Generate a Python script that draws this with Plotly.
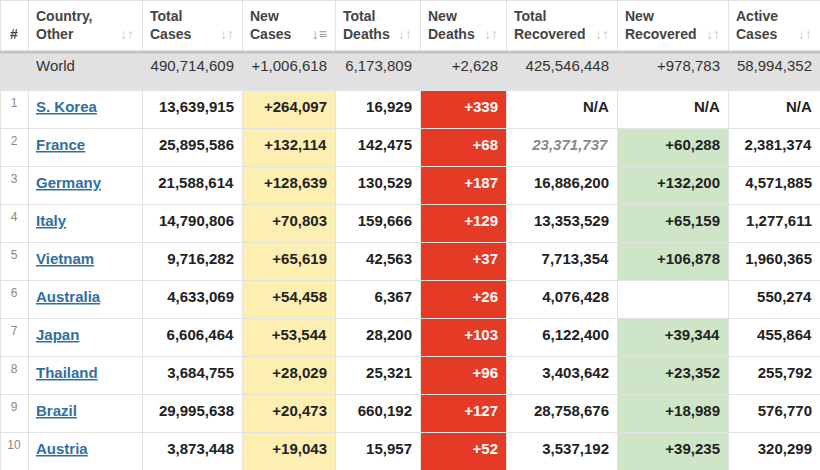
import plotly.graph_objects as go

HEADERS = ["#", "Country,<br>Other", "Total<br>Cases", "New<br>Cases", "Total<br>Deaths",
           "New<br>Deaths", "Total<br>Recovered", "New<br>Recovered", "Active<br>Cases"]

COUNTRIES = ["S. Korea", "France", "Germany", "Italy", "Vietnam",
             "Australia", "Japan", "Thailand", "Brazil", "Austria"]
TOTAL_CASES = [13639915, 25895586, 21588614, 14790806, 9716282,
               4633069, 6606464, 3684755, 29995638, 3873448]
NEW_CASES = [264097, 132114, 128639, 70803, 65619, 54458, 53544, 28029, 20473, 19043]
TOTAL_DEATHS = [16929, 142475, 130529, 159666, 42563, 6367, 28200, 25321, 660192, 15957]
NEW_DEATHS = [339, 68, 187, 129, 37, 26, 103, 96, 127, 52]
TOTAL_RECOVERED = ["N/A", 23371737, 16886200, 13353529, 7713354,
                   4076428, 6122400, 3403642, 28758676, 3537192]
NEW_RECOVERED = ["N/A", 60288, 132200, 65159, 106878, None, 39344, 23352, 18989, 39235]
ACTIVE_CASES = ["N/A", 2381374, 4571885, 1277611, 1960365,
                550274, 455864, 255792, 576770, 320299]
ESTIMATED_RECOVERED = ["France"]

WORLD = [490714609, 1006618, 6173809, 2628, 425546448, 978783, 58994352]

YELLOW = "#fdefb1"
RED = "#e53a26"
GREEN = "#cee5c8"
GREY = "#e1e1e1"
FONT = "Helvetica Neue, Liberation Sans, Arial, sans-serif"
NBSP = "\u00a0"


def fmt(v, plus=False):
    if v is None:
        return ""
    if isinstance(v, str):
        return v
    return ("+" if plus else "") + f"{v:,}"


def b(s):
    return f"<b>{s}</b>" if s else s


n = len(COUNTRIES)
cols = [
    [""] + [str(i + 1) for i in range(n)],
    ["World"] + [f"<b><u>{c.replace(' ', NBSP)}</u></b>" for c in COUNTRIES],
    [fmt(WORLD[0])] + [b(fmt(v)) for v in TOTAL_CASES],
    [fmt(WORLD[1], True)] + [b(fmt(v, True)) for v in NEW_CASES],
    [fmt(WORLD[2])] + [b(fmt(v)) for v in TOTAL_DEATHS],
    [fmt(WORLD[3], True)] + [b(fmt(v, True)) for v in NEW_DEATHS],
    [fmt(WORLD[4])] + [
        f"<b><i>{fmt(v)}</i></b>" if c in ESTIMATED_RECOVERED else b(fmt(v))
        for c, v in zip(COUNTRIES, TOTAL_RECOVERED)],
    [fmt(WORLD[5], True)] + [b(fmt(v, True)) for v in NEW_RECOVERED],
    [fmt(WORLD[6])] + [b(fmt(v)) for v in ACTIVE_CASES],
]

fills = []
colors = []
for j in range(9):
    fc = [GREY]
    tc = ["#333"]
    for i in range(n):
        if j == 3:
            fc.append(YELLOW)
        elif j == 5:
            fc.append(RED)
        elif j == 7 and isinstance(NEW_RECOVERED[i], int):
            fc.append(GREEN)
        else:
            fc.append("white")
        if j == 0:
            tc.append("#888")
        elif j == 1:
            tc.append("#2f6fa3")
        elif j == 5:
            tc.append("white")
        elif j == 6 and COUNTRIES[i] in ESTIMATED_RECOVERED:
            tc.append("#8a8a8a")
        else:
            tc.append("#222")
    fills.append(fc)
    colors.append(tc)

col_sizes = [12] + [15] * 8

widths = [28, 114, 100, 93, 85, 86, 111, 111, 92]

fig = go.Figure()
fig.add_trace(go.Table(
    columnwidth=widths,
    domain=dict(x=[0, 1], y=[0, 1]),
    header=dict(
        values=[f"<b>{h}</b>" if i else NBSP + "<br><b>#</b>" for i, h in enumerate(HEADERS)],
        align=["center"] + ["left"] * 8,
        height=52,
        fill_color="white",
        line=dict(color="#e2e2e2", width=1),
        font=dict(family=FONT, size=14, color="#444"),
    ),
    cells=dict(
        values=cols,
        align=["center", "left"] + ["right"] * 7,
        height=38,
        fill_color=fills,
        line=dict(color="#e2e2e2", width=1),
        font=dict(family=FONT, size=col_sizes, color=colors),
    ),
))

# sort icons in header
icons = [""] + [NBSP + "<br><b>↓↑</b>"] * 8
icons[3] = NBSP + "<br><b>↓≡</b>"
icon_colors = ["#ccc"] * 9
icon_colors[3] = "#999"
fig.add_trace(go.Table(
    columnwidth=widths,
    domain=dict(x=[0, 1], y=[0, 1]),
    header=dict(
        values=icons,
        align="right",
        height=52,
        fill_color="rgba(0,0,0,0)",
        line=dict(width=0, color="rgba(0,0,0,0)"),
        font=dict(family=FONT, size=14, color=icon_colors),
    ),
    cells=dict(
        values=[[""] * (n + 1)] * 9,
        height=38,
        fill_color="rgba(0,0,0,0)",
        line=dict(width=0, color="rgba(0,0,0,0)"),
    ),
))

fig.add_shape(type="line", xref="paper", yref="paper",
              x0=0, x1=1, y0=1 - 52 / 470, y1=1 - 52 / 470,
              line=dict(color="#c4c4c4", width=3))

fig.update_layout(
    width=820, height=470,
    margin=dict(l=0, r=0, t=0, b=0),
    paper_bgcolor="white",
)

fig.write_html("out.html", config={"displayModeBar": False},
               post_script="document.body.style.margin='0';")
